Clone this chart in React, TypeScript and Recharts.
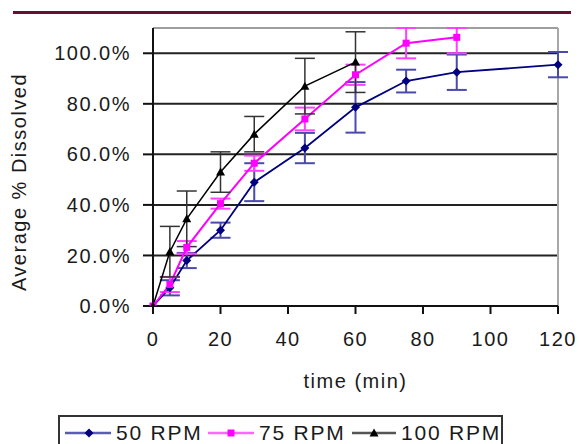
import React from "react";
import {
  CartesianGrid,
  ErrorBar,
  Line,
  LineChart,
  ReferenceLine,
  XAxis,
  YAxis,
} from "recharts";

// sampling times (min) per series
const times50 = [0, 5, 10, 20, 30, 45, 60, 75, 90, 120];
const times75 = [0, 5, 10, 20, 30, 45, 60, 75, 90];
const times100 = [0, 5, 10, 20, 30, 45, 60];

// average fraction dissolved
const rpm50 = [0, 0.072, 0.18, 0.3, 0.49, 0.625, 0.786, 0.89, 0.925, 0.955];
const rpm75 = [0, 0.085, 0.232, 0.405, 0.565, 0.74, 0.915, 1.04, 1.063];
const rpm100 = [0, 0.215, 0.345, 0.53, 0.68, 0.87, 0.965];

// +/- error
const err50 = [null, 0.03, 0.03, 0.03, 0.075, 0.06, 0.1, 0.045, 0.07, 0.05];
const err75 = [null, 0.03, 0.025, 0.02, 0.03, 0.045, 0.04, 0.06, 0.063];
const err100 = [null, 0.1, 0.11, 0.08, 0.07, 0.11, 0.12];

const xTicks = [0, 20, 40, 60, 80, 100, 120];
const yTicks = [0, 0.2, 0.4, 0.6, 0.8, 1.0];
const Y_MAX = 1.1;

const seriesNames = ["50 RPM", "75 RPM", "100 RPM"];
const NAVY = "#000080";
const MAGENTA = "#ff00ff";
const BLACK = "#000000";
const INK = "#1a1a1a";
const FONT = "'Liberation Sans', Arial, sans-serif";

// error bars are cut at the top of the plot, like the original
const toRows = (t: number[], v: number[], e: (number | null)[]) =>
  t.map((x, i) => ({
    t: x,
    v: v[i],
    e: e[i] == null ? null : [e[i], Math.min(e[i] as number, Y_MAX - v[i])],
  }));

const data50 = toRows(times50, rpm50, err50);
const data75 = toRows(times75, rpm75, err75);
const data100 = toRows(times100, rpm100, err100);

const Diamond = (p: any) => {
  const { cx, cy, index } = p;
  if (cx == null || cy == null) return <g key={`dm${index}`} />;
  const r = 4.5;
  return (
    <path
      key={`dm${index}`}
      d={`M${cx},${cy - r}L${cx + r},${cy}L${cx},${cy + r}L${cx - r},${cy}Z`}
      fill={NAVY}
    />
  );
};

const Square = (p: any) => {
  const { cx, cy, index } = p;
  if (cx == null || cy == null) return <g key={`sq${index}`} />;
  return <rect key={`sq${index}`} x={cx - 3.5} y={cy - 3.5} width={7} height={7} fill={MAGENTA} />;
};

const Triangle = (p: any) => {
  const { cx, cy, index } = p;
  if (cx == null || cy == null) return <g key={`tr${index}`} />;
  return (
    <path
      key={`tr${index}`}
      d={`M${cx},${cy - 4.5}L${cx + 4.5},${cy + 3.5}L${cx - 4.5},${cy + 3.5}Z`}
      fill={BLACK}
    />
  );
};

const YTitle = () => (
  <text
    x={26}
    y={182}
    transform="rotate(-90 26 182)"
    textAnchor="middle"
    fill={INK}
    fontSize={20}
    letterSpacing={1.5}
    fontFamily={FONT}
  >
    Average % Dissolved
  </text>
);

const legendMarks = [
  <svg width={46} height={12} key="m0">
    <line x1={0} y1={6} x2={46} y2={6} stroke="#5a5ab8" strokeWidth={2.5} />
    <path d="M24,1.5L28.5,6L24,10.5L19.5,6Z" fill={NAVY} />
  </svg>,
  <svg width={46} height={12} key="m1">
    <line x1={0} y1={6} x2={46} y2={6} stroke="#ff66ff" strokeWidth={2.5} />
    <rect x={19.5} y={2.5} width={7} height={7} fill={MAGENTA} />
  </svg>,
  <svg width={44} height={12} key="m2">
    <line x1={0} y1={6} x2={44} y2={6} stroke="#555" strokeWidth={2.5} />
    <path d="M22,1.5L26.5,9.5L17.5,9.5Z" fill={BLACK} />
  </svg>,
];

export default function App() {
  return (
    <div style={{ position: "absolute", left: 0, top: 0, width: 580, height: 444, background: "#fff", overflow: "hidden" }}>
      <div style={{ position: "absolute", left: 13, top: 11, width: 558, height: 3, background: "#6b0d2f" }} />
      <LineChart
        width={580}
        height={444}
        margin={{ top: 28, right: 22, left: 0, bottom: 48 }}
        style={{ fontFamily: FONT }}
      >
        <CartesianGrid vertical={false} stroke="#222" strokeWidth={2} />
        <XAxis
          type="number"
          dataKey="t"
          domain={[0, 120]}
          ticks={xTicks}
          allowDuplicatedCategory={false}
          height={90}
          stroke="#111"
          strokeWidth={2}
          tickSize={8}
          tickMargin={18}
          tick={{ fill: INK, fontSize: 20, letterSpacing: 1.5 }}
          label={{ value: "time (min)", position: "insideBottom", offset: 8, fill: INK, fontSize: 20, letterSpacing: 1.5 }}
        />
        <YAxis
          type="number"
          domain={[0, Y_MAX]}
          allowDataOverflow
          ticks={yTicks}
          width={153}
          stroke="#111"
          strokeWidth={2}
          tickSize={10}
          tickMargin={12}
          tickFormatter={(v: number) => `${(v * 100).toFixed(1)}%`}
          tick={{ fill: INK, fontSize: 20, letterSpacing: 1.5 }}
          label={{ content: YTitle }}
        />
        <ReferenceLine y={Y_MAX} stroke="#c8c8c8" strokeWidth={1.5} />
        <ReferenceLine x={120} stroke="#a8a8a8" strokeWidth={2} />
        <Line
          data={data50}
          dataKey="v"
          name={seriesNames[0]}
          stroke={NAVY}
          strokeWidth={1.8}
          dot={Diamond}
          isAnimationActive={false}
        >
          <ErrorBar dataKey="e" direction="y" width={10} stroke="#4a4aaa" strokeWidth={2} />
        </Line>
        <Line
          data={data75}
          dataKey="v"
          name={seriesNames[1]}
          stroke={MAGENTA}
          strokeWidth={2}
          dot={Square}
          isAnimationActive={false}
        >
          <ErrorBar dataKey="e" direction="y" width={10} stroke="#ff40ff" strokeWidth={2} />
        </Line>
        <Line
          data={data100}
          dataKey="v"
          name={seriesNames[2]}
          stroke={BLACK}
          strokeWidth={1.5}
          dot={Triangle}
          isAnimationActive={false}
        >
          <ErrorBar dataKey="e" direction="y" width={10} stroke="#333" strokeWidth={1.5} />
        </Line>
      </LineChart>
      <div
        style={{
          position: "absolute",
          left: 58,
          top: 415,
          width: 445,
          height: 40,
          border: "2px solid #333",
          boxSizing: "border-box",
          fontFamily: FONT,
          fontSize: 21,
          letterSpacing: 1.8,
          color: INK,
        }}
      >
        {seriesNames.map((n, i) => (
          <div
            key={n}
            style={{
              position: "absolute",
              top: 4,
              left: [5, 148, 292][i],
              display: "flex",
              alignItems: "center",
              gap: 5,
              lineHeight: "24px",
              whiteSpace: "nowrap",
            }}
          >
            {legendMarks[i]}
            <span>{n}</span>
          </div>
        ))}
      </div>
    </div>
  );
}
